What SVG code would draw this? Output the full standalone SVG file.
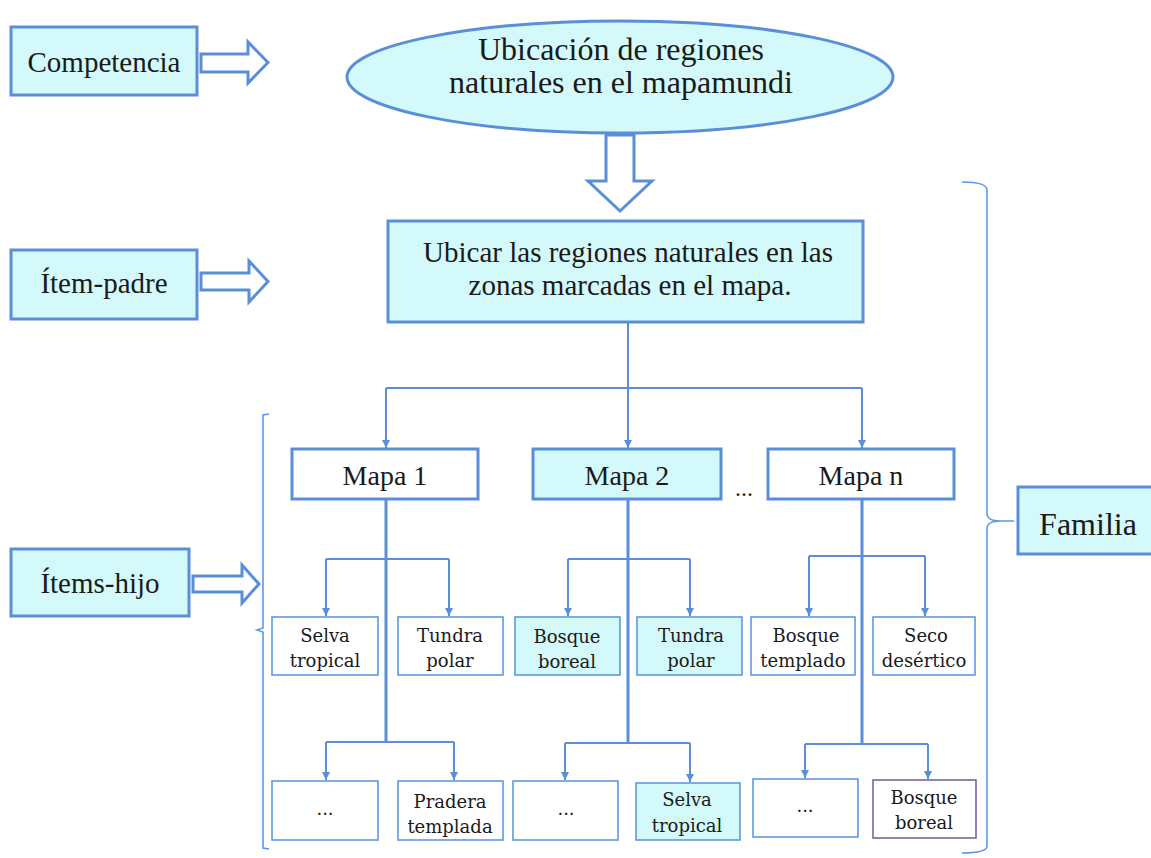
<svg xmlns="http://www.w3.org/2000/svg" width="1151" height="858" viewBox="0 0 1151 858">
<defs>
<style>
.big{fill:#D3F9FA;stroke:#5A8FD8;stroke-width:3}
.bigw{fill:#FFFFFF;stroke:#5A8FD8;stroke-width:3}
.sm{fill:#FFFFFF;stroke:#5F98DE;stroke-width:1.6}
.smc{fill:#D3F9FA;stroke:#5F98DE;stroke-width:1.6}
.smp{fill:#FFFFFF;stroke:#7A6596;stroke-width:1.6}
.blk{fill:#FFFFFF;stroke:#5A8FD8;stroke-width:3;stroke-linejoin:miter}
.lbl{font-family:"Liberation Serif","Times New Roman",serif;font-size:29px;fill:#1a1a1a;text-anchor:middle}
.ell{font-family:"Liberation Serif","Times New Roman",serif;font-size:32px;fill:#1a1a1a;text-anchor:middle}
.map{font-family:"Liberation Serif","Times New Roman",serif;font-size:28px;fill:#1a1a1a;text-anchor:middle}
.st{font-family:"DejaVu Serif",serif;font-size:18px;fill:#1a1a1a;text-anchor:middle}
.c2{fill:none;stroke:#5A8FD8;stroke-width:2}
.c3{fill:none;stroke:#5A8FD8;stroke-width:3}
.br{fill:none;stroke:#5F98DE;stroke-width:1.6}
</style>
<marker id="ah" viewBox="0 0 10 10" refX="10" refY="5" markerWidth="8" markerHeight="8" markerUnits="userSpaceOnUse" orient="auto">
<path d="M0,0 L10,5 L0,10 z" fill="#5A8FD8"/>
</marker>
</defs>
<rect width="1151" height="858" fill="#FFFFFF"/>

<g id="competencia">
<rect class="big" x="11" y="27" width="186" height="68"/>
<text class="lbl" x="104" y="72">Competencia</text>
</g>
<g id="arrow-competencia">
<polygon class="blk" points="201,54 248,54 248,42 268,62.5 248,83 248,72 201,72"/>
</g>

<g id="ubicacion">
<ellipse class="big" cx="620" cy="77" rx="273" ry="56"/>
<text class="ell" x="621" y="60">Ubicación de regiones</text>
<text class="ell" x="621" y="93">naturales en el mapamundi</text>
</g>
<g id="arrow-down">
<polygon class="blk" points="606,135 634,135 634,181 652,181 620,211 588,181 606,181"/>
</g>

<g id="item-padre-label">
<rect class="big" x="11" y="250" width="186" height="69"/>
<text class="lbl" x="104" y="293">Ítem-padre</text>
</g>
<g id="arrow-padre">
<polygon class="blk" points="201,273 249,273 249,261 268,281.5 249,302 249,290 201,290"/>
</g>

<g id="item-padre">
<rect class="big" x="388" y="221" width="475" height="101"/>
<text class="lbl" x="628" y="262">Ubicar las regiones naturales en las</text>
<text class="lbl" x="630" y="295">zonas marcadas en el mapa.</text>
</g>

<g id="items-hijo-label">
<rect class="big" x="11" y="549" width="178" height="67"/>
<text class="lbl" x="100" y="593">Ítems-hijo</text>
</g>
<g id="arrow-hijo">
<polygon class="blk" points="193,576 242,576 242,565 259,584 242,603 242,592 193,592"/>
</g>

<g id="familia">
<rect class="big" x="1018" y="487" width="140" height="67"/>
<text class="ell" x="1088" y="535">Familia</text>
</g>

<g id="brackets">
<path class="br" d="M269,414 L263,415 L263,628 L257,630 L263,632 L263,848 L269,849"/>
<path class="br" d="M962,182 Q987,182 987,190 L987,513 Q987,521 1000,521 L1014,521 M1000,521 Q987,521 987,529 L987,846 Q987,853 962,853"/>
</g>

<g id="mapa1">
<rect class="bigw" x="292" y="449" width="186" height="50"/>
<text class="map" x="385" y="485">Mapa 1</text>
</g>
<g id="mapa2">
<rect class="big" x="533" y="449" width="188" height="50"/>
<text class="map" x="627" y="485">Mapa 2</text>
</g>
<text class="map" x="744" y="496" style="font-size:24px">...</text>
<g id="mapan">
<rect class="bigw" x="768" y="449" width="186" height="50"/>
<text class="map" x="861" y="485">Mapa n</text>
</g>

<g id="r1-selva">
<rect class="sm" x="272" y="617" width="106" height="58"/>
<text class="st" x="325" y="642">Selva</text>
<text class="st" x="325" y="667">tropical</text>
</g>
<g id="r1-tundra">
<rect class="sm" x="398" y="617" width="105" height="58"/>
<text class="st" x="450" y="642">Tundra</text>
<text class="st" x="450" y="667">polar</text>
</g>
<g id="r1-bosque">
<rect class="smc" x="515" y="617" width="105" height="58"/>
<text class="st" x="567" y="643">Bosque</text>
<text class="st" x="567" y="668">boreal</text>
</g>
<g id="r1-tundra2">
<rect class="smc" x="637" y="617" width="105" height="58"/>
<text class="st" x="691" y="642">Tundra</text>
<text class="st" x="691" y="667">polar</text>
</g>
<g id="r1-templado">
<rect class="sm" x="751" y="617" width="104" height="58"/>
<text class="st" x="806" y="642">Bosque</text>
<text class="st" x="803" y="667">templado</text>
</g>
<g id="r1-seco">
<rect class="sm" x="873" y="617" width="102" height="58"/>
<text class="st" x="926" y="642">Seco</text>
<text class="st" x="924" y="667">desértico</text>
</g>

<g id="r2-dots1">
<rect class="sm" x="272" y="781" width="106" height="59"/>
<text class="st" x="325" y="815">...</text>
</g>
<g id="r2-pradera">
<rect class="sm" x="398" y="781" width="105" height="59"/>
<text class="st" x="450" y="808">Pradera</text>
<text class="st" x="450" y="833">templada</text>
</g>
<g id="r2-dots2">
<rect class="sm" x="513" y="781" width="105" height="59"/>
<text class="st" x="566" y="815">...</text>
</g>
<g id="r2-selva">
<rect class="smc" x="636" y="783" width="104" height="57"/>
<text class="st" x="687" y="806">Selva</text>
<text class="st" x="687" y="832">tropical</text>
</g>
<g id="r2-dots3">
<rect class="sm" x="753" y="779" width="105" height="58"/>
<text class="st" x="805" y="812">...</text>
</g>
<g id="r2-boreal">
<rect class="smp" x="873" y="780" width="103" height="58"/>
<text class="st" x="924" y="804">Bosque</text>
<text class="st" x="924" y="829">boreal</text>
</g>

<g id="connectors">
<path class="c2" d="M628,323 V448" marker-end="url(#ah)"/>
<path class="c2" d="M386,388 H862"/>
<path class="c2" d="M386,388 V448" marker-end="url(#ah)"/>
<path class="c2" d="M862,388 V448" marker-end="url(#ah)"/>

<path class="c3" d="M386,500 V742"/>
<path class="c2" d="M326,559 H449"/>
<path class="c2" d="M326,559 V616" marker-end="url(#ah)"/>
<path class="c2" d="M449,559 V616" marker-end="url(#ah)"/>
<path class="c2" d="M326,742 H454"/>
<path class="c2" d="M326,742 V780" marker-end="url(#ah)"/>
<path class="c2" d="M454,742 V780" marker-end="url(#ah)"/>

<path class="c3" d="M628,500 V743"/>
<path class="c2" d="M568,559 H690"/>
<path class="c2" d="M568,559 V616" marker-end="url(#ah)"/>
<path class="c2" d="M690,559 V616" marker-end="url(#ah)"/>
<path class="c2" d="M565,743 H690"/>
<path class="c2" d="M565,743 V780" marker-end="url(#ah)"/>
<path class="c2" d="M690,743 V782" marker-end="url(#ah)"/>

<path class="c3" d="M862,500 V744"/>
<path class="c2" d="M809,556 H925"/>
<path class="c2" d="M809,556 V616" marker-end="url(#ah)"/>
<path class="c2" d="M925,556 V616" marker-end="url(#ah)"/>
<path class="c2" d="M805,744 H928"/>
<path class="c2" d="M805,744 V778" marker-end="url(#ah)"/>
<path class="c2" d="M928,744 V779" marker-end="url(#ah)"/>
</g>
</svg>
